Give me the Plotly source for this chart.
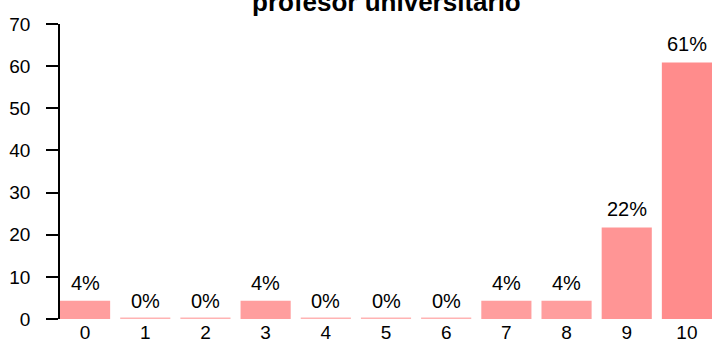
import plotly.graph_objects as go

categories = ["0", "1", "2", "3", "4", "5", "6", "7", "8", "9", "10"]
values = [4.35, 0, 0, 4.35, 0, 0, 0, 4.35, 4.35, 21.74, 60.87]
labels = ["4%", "0%", "0%", "4%", "0%", "0%", "0%", "4%", "4%", "22%", "61%"]
colors = ["#FF9E9E", "#FFB3B3", "#FFB3B3", "#FF9E9E", "#FFB3B3", "#FFB3B3", "#FFB3B3",
          "#FF9E9E", "#FF9E9E", "#FF9595", "#FF8C8C"]
title = "profesor universitario"
yticks = [0, 10, 20, 30, 40, 50, 60, 70]

xs = list(range(len(categories)))
line_w = [3 if v == 0 else 0 for v in values]

fig = go.Figure()
fig.add_trace(go.Bar(
    x=xs, y=values,
    marker=dict(color=colors, line=dict(color=colors, width=line_w)),
    width=0.833,
    hoverinfo="skip",
))

font = "Liberation Sans, Arial, sans-serif"
for x, v, t in zip(xs, values, labels):
    fig.add_annotation(x=x, y=v, text=t, showarrow=False, yanchor="bottom",
                       yshift=5, font=dict(family=font, size=20, color="#000"))

fig.add_annotation(xref="paper", yref="paper", x=0.5, y=1.017, yanchor="bottom",
                   text="<b>" + title + "</b>", showarrow=False,
                   font=dict(family=font, size=26, color="#000"))

fig.update_layout(
    width=712, height=343,
    margin=dict(l=60, r=0, t=24, b=22, pad=0),
    paper_bgcolor="white", plot_bgcolor="white",
    showlegend=False,
    font=dict(family=font, size=19, color="#000"),
    xaxis=dict(range=[-0.4167, 10.4167], tickvals=xs, ticktext=categories,
               showgrid=False, zeroline=False, showline=False, ticks="",
               ticklabelstandoff=0, fixedrange=True),
    yaxis=dict(range=[0, 70], tickvals=yticks, showgrid=False, zeroline=False,
               showline=True, linecolor="#000", linewidth=1.5,
               ticks="outside", ticklen=12, tickwidth=1.5, tickcolor="#000",
               ticklabelstandoff=12, fixedrange=True),
)

fig.write_html("out.html", config={"displayModeBar": False},
               post_script="document.body.style.margin='0';document.body.style.overflow='hidden';")
